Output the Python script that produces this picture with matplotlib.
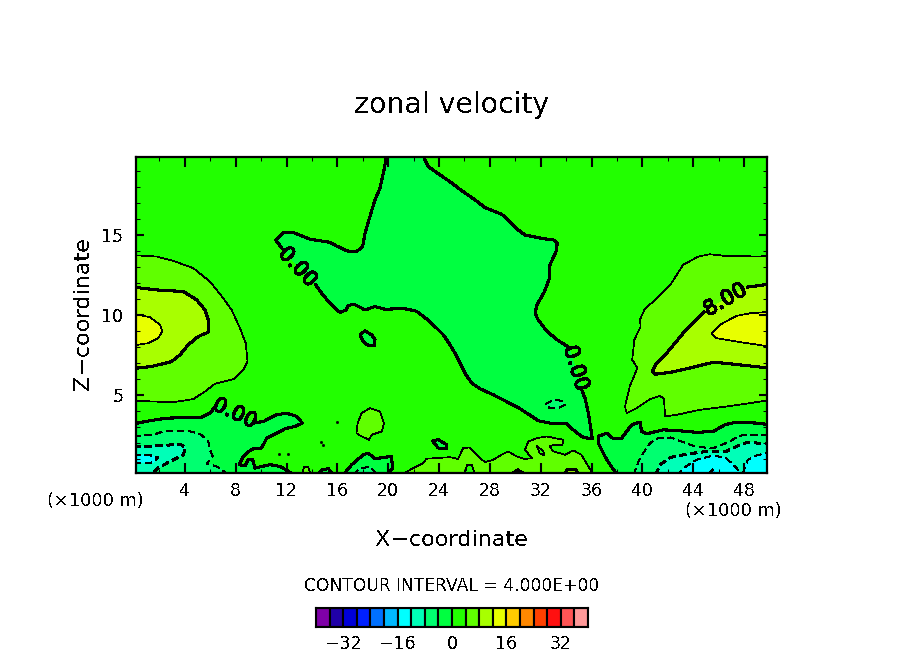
import numpy as np
import matplotlib
matplotlib.use("Agg")
import matplotlib.pyplot as plt
import matplotlib.patheffects as pe
from matplotlib.ticker import MultipleLocator

W, H = 904, 654
plt.rcParams["text.antialiased"] = False
plt.rcParams["lines.scale_dashes"] = False

band_edges = np.arange(-40, 41, 4)
band_colors = ["#7f00a8", "#2000a8", "#0000d8", "#0020ff", "#0070ff", "#00b8ff", "#00ffff",
               "#00ffb8", "#00ff70", "#00ff40", "#22ff00", "#60ff00", "#a8ff00", "#e8ff00",
               "#ffcc00", "#ff8800", "#ff4000", "#ff1010", "#ff5555", "#ff9999"]
bar_ticks = [-32, -16, 0, 16, 32]

nan = float("nan")

# isolines as (x km, z km), nan = gap for a label
zero_main = [(19.88, 20), (19.67, 19.06), (19.35, 17.92), (18.96, 17.19), (18.44, 15.83), (18.18, 15.1),
             (17.99, 14.27), (17.52, 13.96), (16.73, 14.0), (15.94, 14.31), (15.42, 14.54), (13.85, 14.73),
             (12.54, 15.15), (11.75, 15.15), (11.15, 14.69), (11.67, 14.13), (nan, nan), (14.24, 11.94),
             (14.77, 11.35), (15.42, 10.73), (16.21, 10.15), (16.68, 10.31), (16.86, 10.58), (17.31, 10.67),
             (18.18, 10.31), (18.96, 10.52), (19.75, 10.35), (21.19, 10.40), (22.23, 10.23), (23.29, 9.58),
             (24.34, 8.75), (24.86, 8.13), (25.4, 7.4), (26.04, 6.35), (26.57, 5.73), (27.22, 5.38),
             (28.27, 5.0), (29.3, 4.58), (30.37, 4.13), (31.3, 3.65), (31.8, 3.38), (32.86, 3.21),
             (34.04, 3.19), (34.7, 2.71), (35.35, 2.33), (36.06, 2.25), (35.75, 3.85), (35.48, 4.79),
             (35.2, 5.35), (nan, nan), (34.2, 7.98), (33.4, 8.38), (32.5, 8.96), (31.8, 9.69),
             (31.55, 10.1), (31.7, 10.63), (32.3, 11.46), (32.68, 12.29), (32.73, 13.13), (33.2, 13.96),
             (33.3, 14.48), (32.99, 14.69), (32.2, 14.77), (30.76, 15.0), (30.24, 15.31), (29.45, 15.94),
             (28.93, 16.29), (27.62, 16.71), (26.83, 17.19), (25.65, 17.85), (24.86, 18.33), (23.81, 18.9),
             (23.16, 19.27), (22.9, 19.69), (22.76, 20)]
zero_left = [(0, 3.19), (1.26, 3.38), (2.57, 3.54), (5.32, 3.6), (5.98, 3.85), (6.5, 4.38), (nan, nan),
             (9.39, 3.23), (10.18, 3.33), (11.22, 3.75), (12.01, 3.85), (12.8, 3.65), (13.25, 3.23),
             (12.67, 3.02), (11.9, 2.88), (11.22, 2.6), (10.44, 2.29), (10.04, 1.67), (9.26, 1.6),
             (8.6, 1.15), (8.29, 0.63), (8.73, 0.56), (8.99, 0.94), (9.34, 0.94), (9.52, 0.42),
             (10.7, 0.63), (11.49, 0.52), (12.4, 0.1)]
zero_right = [(38.0, 0), (37.19, 0.94), (36.53, 1.98), (36.53, 2.4), (37.19, 2.6), (37.66, 2.29),
              (38.37, 2.29), (39.16, 3.13), (39.81, 3.29), (39.94, 2.71), (40.33, 2.56), (41.65, 2.81),
              (42.96, 2.75), (44.27, 2.65), (45.58, 2.71), (46.5, 3.13), (47.4, 3.29), (49, 3.23), (50, 3.13)]
zero_arch = [(14.5, 0), (14.77, 0.31), (15.29, 0.38), (15.68, 0)]
zero_bump = [(16.47, 0), (17.13, 0.63), (18.04, 1.25), (18.44, 1.35), (18.96, 1.0), (20.27, 1.15),
             (20.33, 0.42), (20.0, 0)]
zero_isle_a = [(17.78, 8.75), (18.17, 9.0), (18.7, 8.75), (18.96, 8.44), (18.91, 8.06), (18.44, 8.08),
               (18.04, 8.33), (17.78, 8.75)]
zero_isle_b = [(23.47, 2.13), (23.94, 2.19), (24.6, 1.88), (24.6, 1.63), (23.94, 1.67), (23.47, 2.13)]

four_left = [(0, 13.73), (1.78, 13.65), (3.09, 13.38), (4.67, 12.92), (5.98, 12.08), (7.03, 11.04),
             (7.68, 10.31), (8.34, 9.17), (8.79, 8.23), (8.94, 7.08), (8.6, 6.56), (7.82, 5.98),
             (6.37, 5.69), (5.59, 5.21), (4.67, 4.73), (3.09, 4.54), (1.52, 4.58), (0, 4.63)]
four_right = [(50, 13.73), (49.25, 13.65), (46.5, 13.69), (45.3, 13.79), (44.4, 13.65), (43.2, 13.13),
              (42.7, 12.5), (42.2, 11.88), (41.5, 11.35), (40.7, 10.73), (40.15, 10.31), (39.8, 9.69),
              (39.86, 9.27), (39.36, 8.44), (39.2, 7.19), (39.6, 6.67), (39.0, 5.52), (38.63, 4.27),
              (38.76, 3.85), (39.55, 4.17), (40.6, 4.73), (41.38, 4.94), (41.7, 4.73), (41.78, 3.65),
              (42.7, 3.75), (44.5, 4.06), (46.63, 4.27), (48.47, 4.48), (50, 4.67)]
four_bottom = [(21.06, 0), (21.98, 0.42), (22.76, 0.73), (23.0, 1.0), (24.86, 1.1), (25.5, 0.98),
               (25.9, 1.67), (26.4, 1.71), (27.1, 1.15), (27.6, 0.79), (28.27, 0.94), (28.93, 1.25),
               (29.45, 1.46), (30.1, 1.15), (30.76, 0.98), (31.3, 1.04), (30.76, 1.56), (31.03, 2.08),
               (31.7, 2.29), (32.47, 2.4), (33.1, 2.29), (33.8, 2.19), (33.7, 1.88), (33.1, 1.88),
               (32.7, 1.77), (32.99, 1.46), (33.9, 1.25), (34.56, 1.52), (35.2, 1.25), (35.9, 0.31), (36.0, 0)]
four_blob = [(18.57, 4.17), (19.36, 3.96), (19.67, 3.23), (19.5, 2.71), (18.7, 2.5), (18.5, 2.19),
             (17.9, 2.4), (17.5, 2.6), (17.6, 3.23), (17.9, 3.85), (18.57, 4.17)]
four_foot = [(13.2, 0), (13.4, 0.5), (13.7, 0.5), (13.9, 0)]
four_hole = [(31.7, 1.81), (32.2, 1.46), (32.3, 1.21), (31.9, 1.35), (31.7, 1.81)]
four_hole_foot = [(26.0, 0), (26.2, 0.6), (26.6, 0.6), (26.8, 0)]

eight_left = [(0, 11.73), (1.78, 11.56), (3.88, 11.46), (4.93, 10.94), (5.59, 10.31), (5.85, 9.69),
              (5.85, 8.92), (5.06, 8.65), (4.27, 8.13), (3.62, 7.5), (2.96, 7.08), (1.39, 6.77), (0, 6.65)]
eight_right = [(50, 11.92), (48.2, 11.73), (nan, nan), (44.9, 10.2), (43.2, 8.85), (41.9, 7.6), (41.1, 6.98),
               (40.78, 6.46), (41.0, 6.29), (42.2, 6.4), (43.7, 6.67), (45.6, 7.04), (47.15, 6.92), (50, 6.67)]
eight_arch = [(33.8, 0), (34.1, 0.33), (34.7, 0.33), (35.1, 0)]
eight_foot = [(29.6, 0), (30.2, 0.3), (30.8, 0)]

twelve_left = [(0, 10.06), (1.26, 9.85), (2.05, 9.38), (2.23, 8.96), (1.91, 8.54), (1.13, 8.23), (0, 8.1)]
twelve_right = [(50, 10.19), (48.47, 10.1), (47.4, 9.94), (46.1, 9.38), (45.45, 8.85), (45.84, 8.54),
                (47.4, 8.33), (50, 8.02)]

minus4_left = [(0, 2.4), (1.52, 2.5), (2.3, 2.71), (4.4, 2.71), (5.2, 2.56), (5.85, 2.08), (5.98, 1.56),
               (6.19, 1.15), (5.72, 0.69), (6.5, 0.52), (7.29, 0.1)]
minus4_right = [(39.3, 0), (39.8, 1.04), (40.6, 1.98), (41.25, 2.29), (42.2, 2.33), (43.2, 2.04), (44.3, 1.73),
                (45.6, 1.67), (46.9, 2.08), (47.55, 2.44), (48.5, 2.5), (50, 2.48)]
minus4_isle = [(32.4, 4.42), (33.0, 4.69), (33.65, 4.63), (33.9, 4.38), (33.4, 4.17), (32.7, 4.17), (32.4, 4.42)]
minus4_bump = [(17.26, 0), (17.8, 0.42), (18.6, 0.48), (19.1, 0)]

minus8_left = [(0, 1.77), (2.05, 1.81), (3.62, 1.92), (4.07, 1.67), (3.88, 1.25), (2.83, 0.83), (1.9, 0.42), (1.52, 0.1)]
minus8_right = [(41.04, 0), (41.4, 0.63), (42.2, 1.08), (43.5, 1.29), (45.05, 1.46), (46.6, 1.46), (47.4, 1.77),
                (48.2, 2.02), (50, 1.94)]

minus12_left = [(0, 1.2), (1.13, 1.25), (1.9, 1.08), (1.52, 0.77), (0, 0.73)]
minus12_right = [(42.7, 0), (43.5, 0.56), (44.3, 0.94), (45.6, 1.2), (46.6, 1.04), (47.4, 0.42), (47.8, 0)]
minus12_edge = [(47.9, 0.1), (48.07, 0.52), (48.3, 0.94), (49, 1.21), (50, 1.4)]
minus16_foot = [(45.2, 0), (45.5, 0.3), (45.9, 0)]

speck_x = [15.94, 14.7, 14.9, 11.4, 12.15]
speck_z = [3.29, 2.02, 1.85, 1.28, 1.28]

corner_sw = [(0, 0)]
corner_se = [(50, 0)]

# (isoline, contour level, lower edge of band filled inside, extra fill points)
contours = [
    (zero_main, 0, -4, []), (zero_left, 0, -4, corner_sw), (zero_right, 0, -4, corner_se),
    (zero_arch, 0, -4, []), (zero_bump, 0, -4, []), (zero_isle_a, 0, -4, []), (zero_isle_b, 0, -4, []),
    (minus4_left, -4, -8, corner_sw), (minus4_right, -4, -8, corner_se), (minus4_isle, -4, -8, []),
    (minus4_bump, -4, -8, []),
    (minus8_left, -8, -12, corner_sw), (minus8_right, -8, -12, corner_se),
    (minus12_left, -12, -16, []), (minus12_right, -12, -16, []), (minus12_edge, -12, -16, corner_se),
    (minus16_foot, -16, -20, []),
    (four_left, 4, 4, []), (four_right, 4, 4, []), (four_bottom, 4, 4, []), (four_blob, 4, 4, []),
    (four_foot, 4, 4, []), (four_hole, 4, 0, []), (four_hole_foot, 4, 0, []),
    (eight_left, 8, 8, []), (eight_right, 8, 8, []), (eight_arch, 8, 8, []), (eight_foot, 8, 8, []),
    (twelve_left, 12, 12, []), (twelve_right, 12, 12, []),
]

# text, x km, z km, rotation
contour_labels = [("0.00", 12.9, 13.0, -47), ("0.00", 7.95, 3.85, -25), ("0.00", 34.8, 6.67, -73), ("8.00", 46.5, 10.94, 30)]


def band_color(low):
    return band_colors[(low + 40) // 4]


def draw_contour(ax, pts, level, low, extra):
    arr = np.array(pts, dtype=float)
    keep = ~np.isnan(arr[:, 0])
    outline = np.vstack([arr[keep]] + ([np.array(extra, dtype=float)] if extra else []))
    ax.fill(outline[:, 0], outline[:, 1], color=band_color(low), lw=0, antialiased=False, zorder=1)
    thick = level % 8 == 0
    ls = (0, (5, 3.5)) if level < 0 else "-"
    ax.plot(arr[:, 0], arr[:, 1], color="k", lw=1.5 if thick else 0.5, ls=ls,
            antialiased=False, zorder=2, solid_capstyle="butt", dash_capstyle="butt")


def px_text(fig, x, y, s, **kw):
    fig.text(x / W, 1 - y / H, s, ha="center", va="center", **kw)


fig = plt.figure(figsize=(W / 100, H / 100), dpi=100)
ax = fig.add_axes([136 / W, 1 - 472.5 / H, (767 - 136) / W, (472.5 - 157) / H])
ax.set_facecolor(band_color(0))
ax.set_xlim(0.16, 49.8)
ax.set_ylim(0.14, 19.875)

for pts, level, low, extra in contours:
    draw_contour(ax, pts, level, low, extra)
ax.plot(speck_x, speck_z, ls="", marker="s", ms=1.0, color="k", zorder=2)

for s, x, z, rot in contour_labels:
    ax.text(x, z, s, rotation=rot, rotation_mode="anchor", ha="center", va="center", fontsize=15, zorder=3,
            path_effects=[pe.withStroke(linewidth=0.25, foreground="k")])

ax.xaxis.set_major_locator(MultipleLocator(4))
ax.xaxis.set_minor_locator(MultipleLocator(2))
ax.yaxis.set_major_locator(MultipleLocator(5))
ax.yaxis.set_minor_locator(MultipleLocator(1))
ax.tick_params(axis="x", which="major", direction="in", top=True, length=7.2, width=1.5, pad=7, labelsize=12.5)
ax.tick_params(axis="y", which="major", direction="in", right=True, length=6, width=1.5, pad=9, labelsize=12.5)
ax.tick_params(which="minor", direction="in", top=True, right=True, length=3.2, width=0.75)
ax.set_axisbelow(False)
for sp in ax.spines.values():
    sp.set_linewidth(1.6)
    sp.set_zorder(5)

px_text(fig, 452, 105, "zonal velocity", fontsize=20.4)
px_text(fig, 452, 540, "X\u2212coordinate", fontsize=16)
px_text(fig, 83, 314, "Z\u2212coordinate", fontsize=16, rotation=90)
px_text(fig, 95.5, 501, "(\u00d71000 m)", fontsize=12.8)
px_text(fig, 733, 511, "(\u00d71000 m)", fontsize=12.8)
px_text(fig, 452, 586, "CONTOUR INTERVAL = 4.000E+00", fontsize=12.3)

# colour key
cax = fig.add_axes([316 / W, 1 - 627 / H, (588 - 316) / W, (627 - 608) / H])
cax.bar(band_edges[:-1], 1, width=4, align="edge", color=band_colors, edgecolor="k", linewidth=1.5)
cax.set_xlim(band_edges[0], band_edges[-1])
cax.set_ylim(0, 1)
cax.set_yticks([])
cax.set_xticks(bar_ticks)
cax.tick_params(axis="x", length=0, pad=6, labelsize=12.5)
for sp in cax.spines.values():
    sp.set_linewidth(1.5)

fig.savefig("out.png", dpi=100)
